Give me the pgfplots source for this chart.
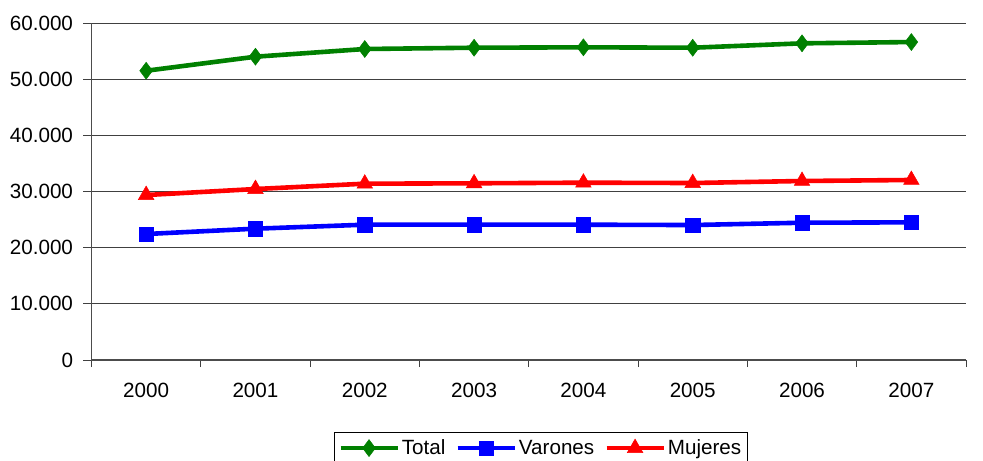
\documentclass[border=0pt]{standalone}
\usepackage{pgfplots}
\pgfplotsset{compat=1.18}
\usepackage{fontspec}
\setmainfont{Liberation Sans}
\definecolor{cgreen}{RGB}{0,128,0}
\definecolor{cblue}{RGB}{0,0,255}
\definecolor{cred}{RGB}{255,0,0}
\begin{document}
\begin{tikzpicture}
\useasboundingbox (-91.5bp,-101bp) rectangle (891.5bp,360bp);
\begin{axis}[
  at={(0,0)}, anchor=south west,
  scale only axis, width=874.5bp, height=337bp,
  xmin=-0.5, xmax=7.5, ymin=0, ymax=60000,
  axis x line*=bottom, axis y line*=left,
  axis line style={black!70, line width=1.2bp},
  xtick={0,...,7},
  xticklabels={2000,2001,2002,2003,2004,2005,2006,2007},
  minor xtick={-0.5,0.5,...,7.5},
  ytick={0,10000,...,60000},
  tick align=outside,
  major x tick style={draw=none},
  minor tick length=7bp,
  major tick length=8bp,
  tick style={black!75, line width=0.8bp},
  ymajorgrids,
  major grid style={black!75, line width=0.8bp},
  scaled y ticks=false,
  /pgf/number format/.cd, assume math mode=true, 1000 sep={.}, fixed,
  /pgfplots/.cd,
  tick label style={font=\fontsize{20.7}{24}\selectfont},
  xticklabel style={yshift=-12bp},
  yticklabel style={xshift=-7bp},
  legend style={at={(0.5137,-0.2150)}, anchor=north, draw=black, line width=0.8bp,
    font=\fontsize{20.7}{24}\selectfont, legend columns=3, inner xsep=4bp, inner ysep=5bp,
    nodes={inner xsep=2bp, inner ysep=2bp},
    /tikz/every even column/.append style={column sep=8bp}},
  legend image code/.code={%
    \draw[#1, mark repeat=2, mark phase=2] plot coordinates {(0bp,0bp) (28.5bp,0bp) (57bp,0bp)};},
  every axis plot/.append style={line width=4.6bp},
]
\addplot[cgreen, mark=diamond*, mark size=8.5bp, mark options={solid, line width=0.5bp}] coordinates {
(0,51500) (1,54000) (2,55370) (3,55600) (4,55670) (5,55600) (6,56380) (7,56610)};
\addlegendentry{Total}
\addplot[cblue, mark=square*, mark size=7.2bp, mark options={solid, line width=0.5bp}] coordinates {
(0,22430) (1,23380) (2,24090) (3,24090) (4,24090) (5,24030) (6,24440) (7,24510)};
\addlegendentry{Varones}
\addplot[cred, mark=triangle*, mark size=9bp, mark options={solid, line width=0.5bp}] coordinates {
(0,29370) (1,30440) (2,31390) (3,31460) (4,31570) (5,31510) (6,31870) (7,32050)};
\addlegendentry{Mujeres}
\end{axis}
\end{tikzpicture}
\end{document}
